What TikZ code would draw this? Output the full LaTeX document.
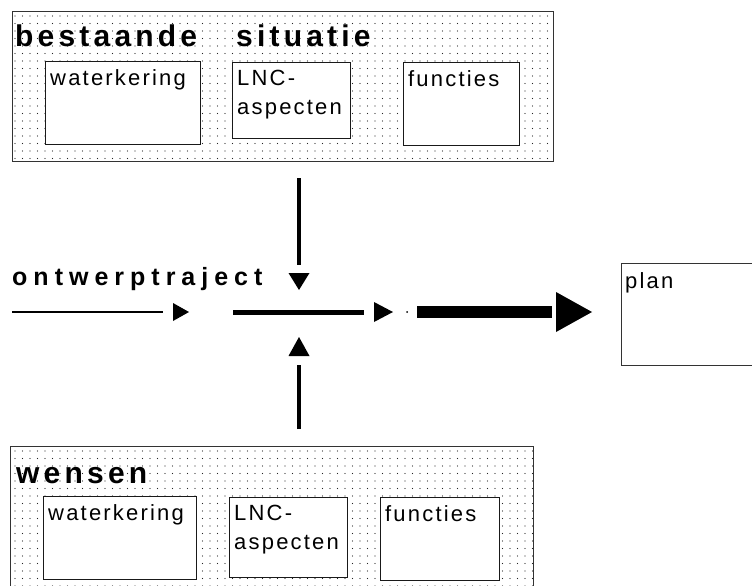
\documentclass[tikz,border=0pt]{standalone}
\usepackage{fontspec}
\setmainfont{Liberation Sans}
\newfontfamily\headfont[LetterSpace=14]{Liberation Sans}
\newfontfamily\flowfont[LetterSpace=24]{Liberation Sans}
\newfontfamily\wordfont[LetterSpace=10]{Liberation Sans}
\usetikzlibrary{positioning,patterns.meta}

\begin{document}
\begin{tikzpicture}[x=1pt, y=-1pt,
    stipple/.style={draw=black!80, line width=1.1pt, pattern={Dots[distance=7.5pt, radius=0.65pt]}, pattern color=black!85, anchor=north west, inner sep=0pt},
    field/.style={draw=black!90, line width=1.2pt, fill=white, anchor=north west, inner sep=0pt},
    fieldtext/.style={font=\wordfont\fontsize{22}{29}\selectfont, anchor=north west, inner sep=0pt, align=left, xshift=5pt, yshift=-8pt},
    heading/.style={font=\headfont\bfseries\fontsize{30}{32}\selectfont, anchor=base west, inner sep=0pt},
    flow/.style={line width=#1, line cap=butt},
  ]
    \useasboundingbox (0,0) rectangle (752,586);

    % Existing situation
    \node[stipple, minimum width=541, minimum height=150] (bestaand) at (12,11) {};
    \node[heading] (bestTitle) at (15,47) {bestaande\hspace{39pt}situatie};
    \node[field, minimum width=155, minimum height=83, label={[fieldtext]north west:waterkering}] (kerTop) at (45,61) {};
    \node[field, minimum width=118, minimum height=76, label={[fieldtext]north west:LNC-\\aspecten}] (lncTop) at (232,62) {};
    \node[field, minimum width=116, minimum height=83, label={[fieldtext]north west:functies}] (funTop) at (403,62) {};

    % Wishes
    \node[stipple, minimum width=523, minimum height=160] (wensen) at (10,446) {};
    \node[heading] (wensTitle) at (16,483) {wensen};
    \node[field, minimum width=153, minimum height=83, label={[fieldtext]north west:waterkering}] (kerBot) at (43,496) {};
    \node[field, minimum width=118, minimum height=80, label={[fieldtext]north west:LNC-\\aspecten}] (lncBot) at (229,497) {};
    \node[field, minimum width=119, minimum height=83, label={[fieldtext]north west:functies}] (funBot) at (380,497) {};

    % Result
    \node[field, draw=black!80, minimum width=140, minimum height=102, label={[fieldtext, xshift=-1pt, yshift=-1pt]north west:plan}] (plan) at (621,263) {};

    % Design track
    \node[font=\flowfont\bfseries\fontsize{25}{27}\selectfont, anchor=base west, inner sep=0pt] (ontwerp) at (12,285) {ontwerptraject};

    % Connectors
    \coordinate (inA) at (12,312);   \coordinate (inB) at (163,312);  \coordinate (hdA) at (189,312);
    \coordinate (midA) at (233,312); \coordinate (midB) at (364,312); \coordinate (hdB) at (393,312);
    \coordinate (dot) at (407,312);
    \coordinate (outA) at (417,312); \coordinate (outB) at (552,312); \coordinate (hdC) at (592,312);
    \coordinate (dnA) at (299,178);  \coordinate (dnB) at (299,265);  \coordinate (hdD) at (299,290);
    \coordinate (upA) at (299,429);  \coordinate (upB) at (299,365);  \coordinate (hdE) at (299,337);

    \draw[flow=2.6pt] (inA) -- (inB);
    \draw[flow=5pt] (midA) -- (midB);
    \draw[flow=12pt] (outA) -- (outB);
    \draw[flow=4.5pt] (dnA) -- (dnB);
    \draw[flow=4.5pt] (upA) -- (upB);
    \fill (dot) circle (1pt);

    % Arrow heads
    \fill (hdA) -- ++(-16,-9) -- ++(0,18) -- cycle;
    \fill (hdB) -- ++(-19,-10) -- ++(0,20) -- cycle;
    \fill (hdC) -- ++(-36,-20) -- ++(0,40) -- cycle;
    \fill (hdD) -- ++(-10.5,-17) -- ++(21,0) -- cycle;
    \fill (hdE) -- ++(-10.5,19) -- ++(21,0) -- cycle;
\end{tikzpicture}
\end{document}
